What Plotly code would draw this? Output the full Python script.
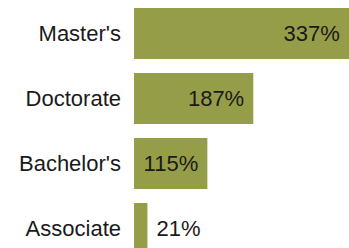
import plotly.graph_objects as go

categories = ["Master's", "Doctorate", "Bachelor's", "Associate"]
values = [337, 187, 115, 21]
labels = ["337%", "187%", "115%", "21%"]
positions = ["inside", "inside", "inside", "outside"]

FONT = "Liberation Sans, Arial, sans-serif"
NBSP = "\u00a0"
templates = [("%{text}" + NBSP) if p == "inside" else (NBSP + "%{text}") for p in positions]

fig = go.Figure(
    go.Bar(
        x=values,
        y=categories,
        orientation="h",
        marker=dict(color="#969d48", line=dict(width=0)),
        text=labels,
        texttemplate=templates,
        textposition=positions,
        insidetextanchor="end",
        textfont=dict(family=FONT, size=22, color="#1a1a1a"),
        cliponaxis=True,
        hoverinfo="skip",
    )
)

fig.update_layout(
    width=349,
    height=248,
    margin=dict(l=134, r=0, t=1, b=0, autoexpand=False),
    paper_bgcolor="white",
    plot_bgcolor="white",
    bargap=0.215,
    showlegend=False,
    font=dict(family=FONT, size=22, color="#1a1a1a"),
)
fig.update_xaxes(range=[0, 337], visible=False, showgrid=False, zeroline=False,
                 fixedrange=True, automargin=False)
fig.update_yaxes(
    type="category",
    categoryorder="array",
    categoryarray=categories,
    range=[3.3, -0.5],
    showgrid=False,
    zeroline=False,
    showline=False,
    ticks="",
    ticklabelstandoff=12,
    automargin=False,
    tickfont=dict(family=FONT, size=22, color="#1a1a1a"),
    fixedrange=True,
)

fig.write_html(
    "out.html",
    config={"displayModeBar": False},
    post_script="document.body.style.margin='0';document.body.style.overflow='hidden';",
)
